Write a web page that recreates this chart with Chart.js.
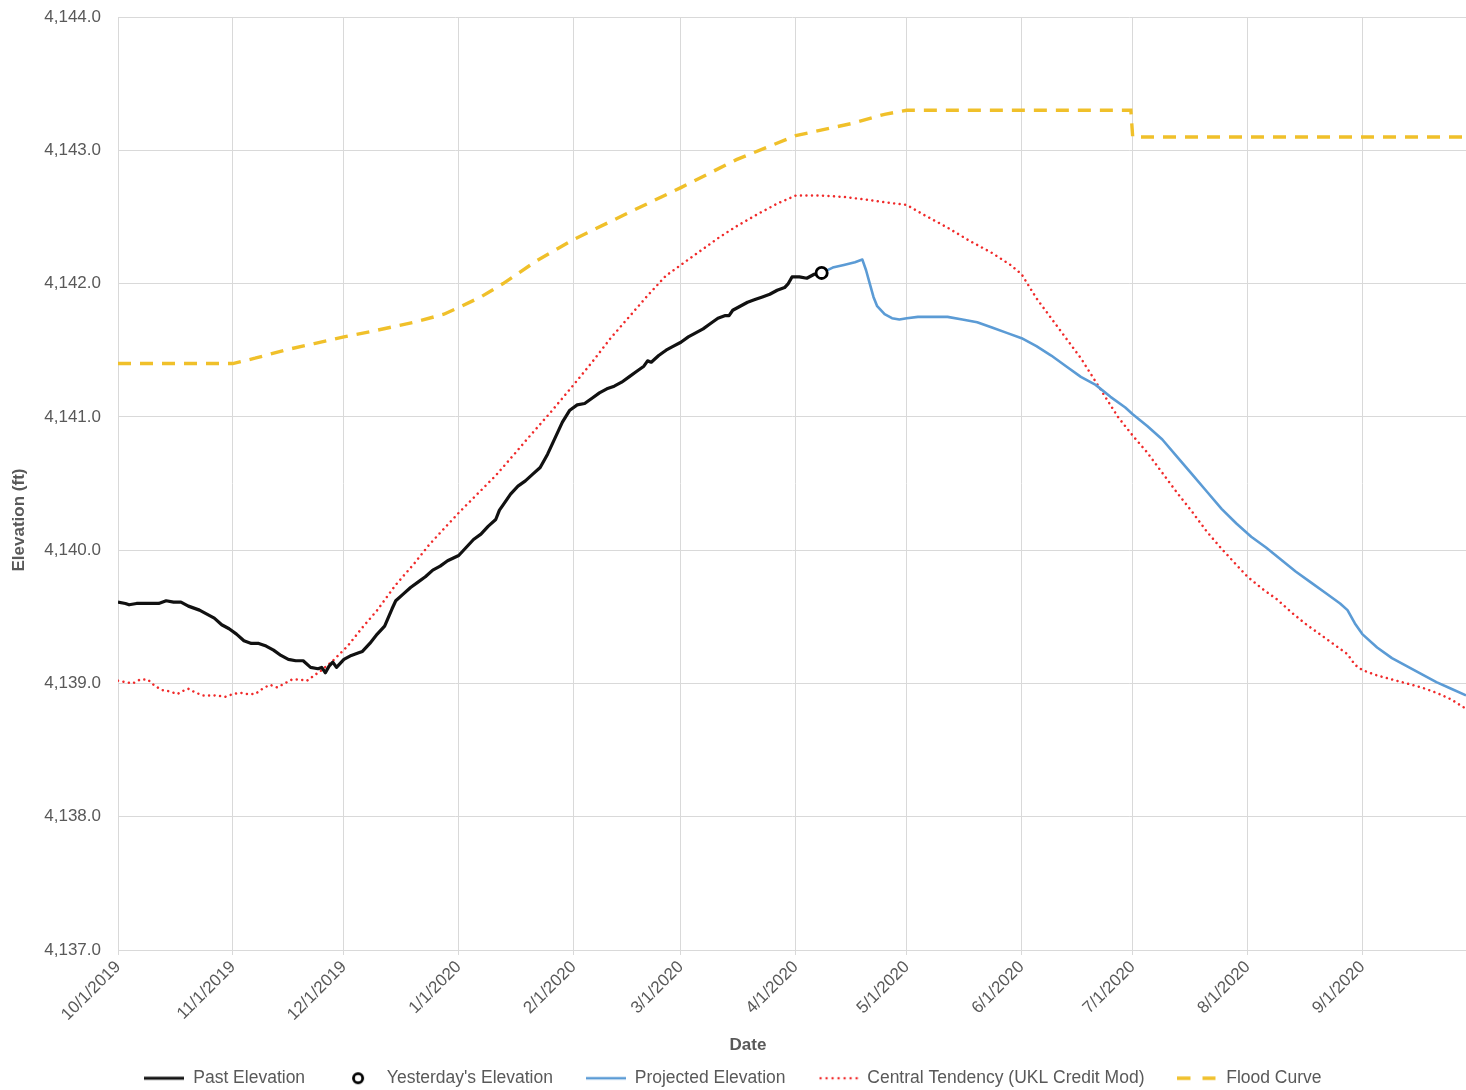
<!DOCTYPE html>
<html>
<head>
<meta charset="utf-8">
<title>Upper Klamath Lake Elevation</title>
<script src="https://cdn.jsdelivr.net/npm/chart.js@4.4.1/dist/chart.umd.min.js"></script>
<style>
  html, body { margin: 0; padding: 0; background: #ffffff; }
  #wrap { width: 1466px; height: 1090px; }
</style>
</head>
<body>
<div id="wrap"><canvas id="chart" width="1466" height="1090"></canvas></div>
<script>
// Days are counted from 10/1/2019 (day 0) through the end of the water year.
const tickDays   = [0, 31, 61, 92, 123, 152, 183, 213, 244, 274, 305, 336];
const tickLabels = ['10/1/2019', '11/1/2019', '12/1/2019', '1/1/2020', '2/1/2020', '3/1/2020',
                    '4/1/2020', '5/1/2020', '6/1/2020', '7/1/2020', '8/1/2020', '9/1/2020'];

// Past Elevation (ft)
const pastDay  = [0, 2, 3, 5, 8, 11, 13, 15, 17, 19, 22, 24, 26, 28, 30, 32, 34, 36, 38, 40,
                  42, 44, 46, 48, 50, 52, 54, 55, 56, 57, 58, 59, 61, 63, 65, 66, 68, 70, 72, 74,
                  75, 77, 79, 81, 83, 85, 87, 89, 92, 94, 96, 98, 100, 102, 103, 104, 106, 108, 110, 112,
                  114, 116, 118, 120, 122, 124, 126, 128, 130, 132, 134, 136, 138, 140, 142, 143, 144, 146, 148, 150,
                  152, 154, 156, 158, 160, 162, 164, 165, 166, 168, 170, 172, 174, 176, 178, 180, 181, 182, 184, 186,
                  188, 190];
const pastElev = [4139.61, 4139.60, 4139.59, 4139.60, 4139.60, 4139.60, 4139.62, 4139.61, 4139.61, 4139.58,
                  4139.55, 4139.52, 4139.49, 4139.44, 4139.41, 4139.37, 4139.32, 4139.30, 4139.30, 4139.28,
                  4139.25, 4139.21, 4139.18, 4139.17, 4139.17, 4139.12, 4139.11, 4139.12, 4139.08, 4139.13,
                  4139.16, 4139.12, 4139.18, 4139.21, 4139.23, 4139.24, 4139.30, 4139.37, 4139.43, 4139.56,
                  4139.62, 4139.67, 4139.72, 4139.76, 4139.80, 4139.85, 4139.88, 4139.92, 4139.96, 4140.02,
                  4140.08, 4140.12, 4140.18, 4140.23, 4140.30, 4140.34, 4140.42, 4140.48, 4140.52, 4140.57,
                  4140.62, 4140.72, 4140.84, 4140.96, 4141.05, 4141.09, 4141.10, 4141.14, 4141.18, 4141.21,
                  4141.23, 4141.26, 4141.30, 4141.34, 4141.38, 4141.42, 4141.41, 4141.46, 4141.50, 4141.53,
                  4141.56, 4141.60, 4141.63, 4141.66, 4141.70, 4141.74, 4141.76, 4141.76, 4141.80, 4141.83,
                  4141.86, 4141.88, 4141.90, 4141.92, 4141.95, 4141.97, 4142.00, 4142.05, 4142.05, 4142.04,
                  4142.07, 4142.08];

// Yesterday's Elevation (4/8/2020)
const yesterdayDay  = [190];
const yesterdayElev = [4142.08];

// Projected Elevation (ft)
const projDay  = [190, 193, 196, 199, 201, 202, 203, 204, 205, 207, 209, 211, 213, 216, 220, 224, 228, 232, 236, 240,
                  244, 248, 252, 256, 260, 264, 268, 272, 274, 278, 282, 286, 290, 294, 298, 302, 306, 310, 314, 318,
                  322, 326, 330, 332, 334, 336, 340, 344, 348, 352, 356, 360, 364];
const projElev = [4142.08, 4142.12, 4142.14, 4142.16, 4142.18, 4142.10, 4142.00, 4141.90, 4141.83, 4141.77,
                  4141.74, 4141.73, 4141.74, 4141.75, 4141.75, 4141.75, 4141.73, 4141.71, 4141.67, 4141.63,
                  4141.59, 4141.53, 4141.46, 4141.38, 4141.30, 4141.24, 4141.15, 4141.07, 4141.02, 4140.93,
                  4140.83, 4140.70, 4140.57, 4140.44, 4140.31, 4140.20, 4140.10, 4140.02, 4139.93, 4139.84,
                  4139.76, 4139.68, 4139.60, 4139.55, 4139.45, 4139.37, 4139.27, 4139.19, 4139.13, 4139.07,
                  4139.01, 4138.96, 4138.91];

// Central Tendency (UKL Credit Mod)
const centralDay  = [0, 2, 4, 6, 8, 10, 12, 14, 16, 18, 19, 21, 23, 26, 29, 31, 33, 35, 37, 39,
                     41, 43, 45, 47, 49, 51, 53, 55, 58, 62, 66, 70, 75, 80, 84, 88, 92, 97, 102, 107,
                     111, 117, 123, 128, 133, 138, 143, 148, 152, 157, 162, 167, 172, 178, 183, 190, 196, 202, 207, 213,
                     218, 224, 230, 236, 241, 244, 248, 252, 256, 260, 265, 270, 274, 278, 282, 286, 290, 294, 298, 302,
                     305, 309, 313, 317, 321, 325, 329, 332, 334, 336, 340, 344, 348, 352, 356, 360, 364];
const centralElev = [4139.02, 4139.01, 4139.00, 4139.03, 4139.03, 4138.98, 4138.95, 4138.94, 4138.92, 4138.95,
                     4138.96, 4138.93, 4138.91, 4138.91, 4138.90, 4138.92, 4138.93, 4138.92, 4138.92, 4138.96,
                     4138.99, 4138.97, 4139.00, 4139.03, 4139.03, 4139.02, 4139.06, 4139.10, 4139.17, 4139.28,
                     4139.42, 4139.55, 4139.74, 4139.90, 4140.04, 4140.16, 4140.28, 4140.42, 4140.56, 4140.72,
                     4140.85, 4141.04, 4141.24, 4141.41, 4141.59, 4141.75, 4141.91, 4142.06, 4142.14, 4142.24,
                     4142.34, 4142.43, 4142.51, 4142.60, 4142.66, 4142.66, 4142.65, 4142.63, 4142.61, 4142.59,
                     4142.51, 4142.42, 4142.32, 4142.23, 4142.14, 4142.07, 4141.89, 4141.74, 4141.59, 4141.44,
                     4141.22, 4141.00, 4140.86, 4140.73, 4140.58, 4140.43, 4140.29, 4140.14, 4140.01, 4139.89,
                     4139.80, 4139.71, 4139.63, 4139.53, 4139.44, 4139.36, 4139.28, 4139.22, 4139.14, 4139.10,
                     4139.06, 4139.03, 4139.00, 4138.97, 4138.93, 4138.88, 4138.81];

// Flood Curve
const floodDay  = [0, 31, 37, 45, 53, 61, 70, 80, 88, 92, 98, 104, 113, 123, 137, 152, 167, 183, 198, 207,
                   213, 244, 273.5, 274, 364];
const floodElev = [4141.40, 4141.40, 4141.44, 4141.50, 4141.55, 4141.60, 4141.65, 4141.71, 4141.77, 4141.82,
                   4141.90, 4142.00, 4142.17, 4142.33, 4142.52, 4142.72, 4142.93, 4143.11, 4143.20, 4143.27,
                   4143.30, 4143.30, 4143.30, 4143.10, 4143.10];

const seriesNames = ['Past Elevation', "Yesterday's Elevation", 'Projected Elevation',
                     'Central Tendency (UKL Credit Mod)', 'Flood Curve'];

const FONT = "'Liberation Sans', Arial, sans-serif";
const GREY_TEXT = '#595959';
const GRID = '#d9d9d9';
const C_PAST = '#111111';
const C_PROJ = '#5b9bd5';
const C_CENT = '#f02a2a';
const C_FLOOD = '#f0c02a';

const pts = (xs, ys) => xs.map((x, i) => ({ x: x, y: ys[i] }));

// Small legend swatches drawn on offscreen canvases
function lineSwatch(color, width, dash, cap) {
  const c = document.createElement('canvas');
  c.width = 40; c.height = 10;
  const g = c.getContext('2d');
  g.strokeStyle = color; g.lineWidth = width; g.lineCap = cap || 'butt';
  g.setLineDash(dash || []);
  g.beginPath(); g.moveTo(cap === 'round' ? 2 : 0, 5); g.lineTo(40, 5); g.stroke();
  return c;
}
function circleSwatch() {
  const c = document.createElement('canvas');
  c.width = 16; c.height = 16;
  const g = c.getContext('2d');
  g.fillStyle = '#ffffff'; g.strokeStyle = '#000000'; g.lineWidth = 2.8;
  g.beginPath(); g.arc(8, 8, 4.6, 0, Math.PI * 2); g.fill(); g.stroke();
  return c;
}
const swatches = [
  lineSwatch(C_PAST, 3.2),
  circleSwatch(),
  lineSwatch(C_PROJ, 2.6),
  lineSwatch(C_CENT, 2.5, [0.01, 6], 'round'),
  lineSwatch(C_FLOOD, 3.4, [13, 12])
];

// Axis titles
const axisTitles = {
  id: 'axisTitles',
  afterDraw(chart) {
    const ctx = chart.ctx;
    ctx.save();
    ctx.fillStyle = GREY_TEXT;
    ctx.font = 'bold 17px ' + FONT;
    ctx.textAlign = 'center';
    ctx.textBaseline = 'middle';
    ctx.fillText('Date', 748, 1045);
    ctx.translate(19, 520);
    ctx.rotate(-Math.PI / 2);
    ctx.fillText('Elevation (ft)', 0, 0);
    ctx.restore();
  }
};

new Chart(document.getElementById('chart'), {
  type: 'line',
  data: {
    datasets: [
      { label: seriesNames[0], data: pts(pastDay, pastElev), borderColor: C_PAST, borderWidth: 3.2,
        pointRadius: 0, order: 1, borderJoinStyle: 'round' },
      { label: seriesNames[1], data: pts(yesterdayDay, yesterdayElev), showLine: false,
        pointRadius: 5.6, pointBorderWidth: 2.8, pointBorderColor: '#000000', pointBackgroundColor: '#ffffff',
        order: 0 },
      { label: seriesNames[2], data: pts(projDay, projElev), borderColor: C_PROJ, borderWidth: 2.6,
        pointRadius: 0, order: 2, borderJoinStyle: 'round' },
      { label: seriesNames[3], data: pts(centralDay, centralElev), borderColor: C_CENT, borderWidth: 2.5,
        borderDash: [0.01, 5.5], borderCapStyle: 'round', pointRadius: 0, order: 3 },
      { label: seriesNames[4], data: pts(floodDay, floodElev), borderColor: C_FLOOD, borderWidth: 3.4,
        borderDash: [13, 9], pointRadius: 0, order: 4 }
    ]
  },
  options: {
    responsive: false,
    animation: false,
    devicePixelRatio: 1,
    layout: { autoPadding: false, padding: { top: 17, right: 0, bottom: -7, left: 0 } },
    scales: {
      x: {
        type: 'linear',
        min: 0,
        max: 364,
        afterBuildTicks: (scale) => { scale.ticks = tickDays.map(v => ({ value: v })); },
        afterFit: (scale) => { scale.height = 86.5; scale.paddingLeft = 0; scale.paddingRight = 0; },
        ticks: {
          autoSkip: false, minRotation: 45, maxRotation: 45, padding: 2,
          color: GREY_TEXT, font: { family: FONT, size: 17 },
          callback: (value, index) => tickLabels[index]
        },
        grid: { color: GRID, lineWidth: 1, drawTicks: true, tickLength: 5 },
        border: { color: GRID }
      },
      y: {
        min: 4137,
        max: 4144,
        afterFit: (scale) => { scale.width = 118; scale.paddingTop = 0; scale.paddingBottom = 0; },
        ticks: {
          stepSize: 1, padding: 17, color: GREY_TEXT, font: { family: FONT, size: 17 },
          callback: (v) => v.toLocaleString('en-US', { minimumFractionDigits: 1, maximumFractionDigits: 1 })
        },
        grid: { color: GRID, lineWidth: 1, drawTicks: false },
        border: { color: GRID }
      }
    },
    plugins: {
      tooltip: { enabled: false },
      legend: {
        position: 'bottom',
        labels: {
          usePointStyle: true,
          pointStyleWidth: 40,
          boxHeight: 12,
          padding: 33,
          color: GREY_TEXT,
          font: { family: FONT, size: 17.5 },
          generateLabels: (chart) => seriesNames.map((name, i) => ({
            text: name,
            pointStyle: swatches[i],
            fillStyle: 'rgba(0,0,0,0)',
            strokeStyle: 'rgba(0,0,0,0)',
            lineWidth: 0,
            hidden: false,
            datasetIndex: i,
            fontColor: GREY_TEXT
          }))
        }
      }
    }
  },
  plugins: [axisTitles]
});
</script>
</body>
</html>
